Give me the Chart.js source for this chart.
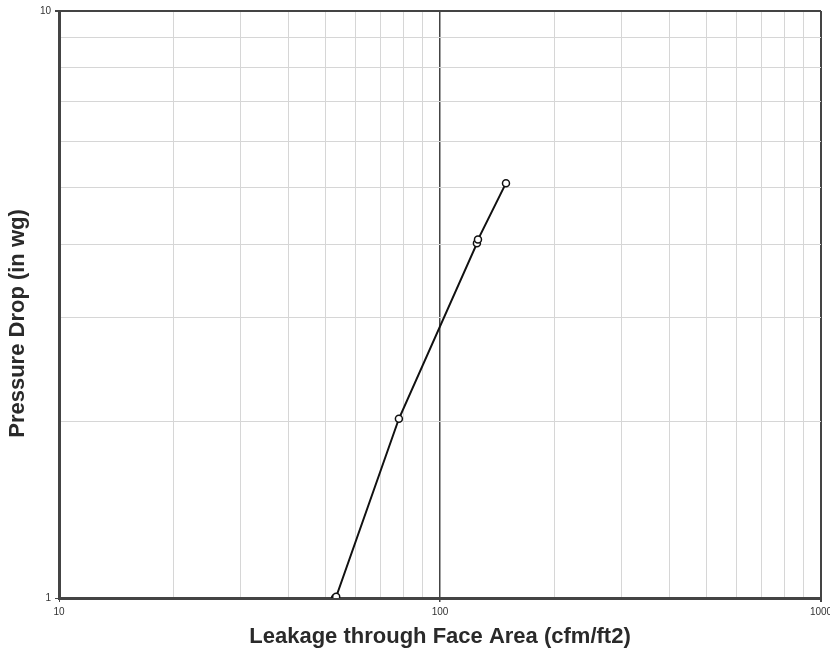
<!DOCTYPE html>
<html>
<head>
<meta charset="utf-8">
<script src="https://cdn.jsdelivr.net/npm/chart.js@4/dist/chart.umd.min.js"></script>
<style>
  html, body { margin: 0; padding: 0; background: #fff; }
  #wrap { width: 830px; height: 652px; position: relative; }
</style>
</head>
<body>
<div id="wrap"><canvas id="c" width="830" height="652"></canvas></div>
<script>
const leakage = [53.0, 53.4, 78, 125, 125.8, 149];
const pressureDrop = [1.0, 1.005, 2.02, 4.02, 4.08, 5.09];
const xTickLabels = [10, 100, 1000];
const yTickLabels = [1, 10];
const xGridValues = [10, 20, 30, 40, 50, 60, 70, 80, 90, 100, 200, 300, 400, 500, 600, 700, 800, 900, 1000];
const yGridValues = [1, 2, 3, 4, 5, 6, 7, 8, 9, 10];
const xTitle = 'Leakage through Face Area (cfm/ft2)';
const yTitle = 'Pressure Drop (in wg)';

const points = leakage.map((x, i) => ({ x: x, y: pressureDrop[i] }));
const FONT = "'Liberation Sans', Arial, Helvetica, sans-serif";

// Y title drawn slightly below the plot's centre, as in the reference
const yTitlePlugin = {
  id: 'yTitle',
  afterDraw(chart) {
    const ctx = chart.ctx;
    const area = chart.chartArea;
    ctx.save();
    ctx.translate(18, (area.top + area.bottom) / 2 + 19);
    ctx.rotate(-Math.PI / 2);
    ctx.font = "bold 22px " + FONT;
    ctx.fillStyle = '#2a2a2a';
    ctx.textAlign = 'center';
    ctx.textBaseline = 'middle';
    ctx.fillText(yTitle, 0, 0);
    ctx.restore();
  }
};

new Chart(document.getElementById('c'), {
  type: 'scatter',
  data: {
    datasets: [{
      data: points,
      showLine: true,
      borderColor: '#111',
      borderWidth: 2,
      tension: 0,
      pointRadius: 3.5,
      pointBorderWidth: 1.5,
      pointBackgroundColor: '#fff',
      pointBorderColor: '#111'
    }]
  },
  plugins: [yTitlePlugin],
  options: {
    responsive: false,
    animation: false,
    devicePixelRatio: 1,
    layout: { padding: { left: 0, right: 9, top: 11, bottom: 0 } },
    plugins: { legend: { display: false }, tooltip: { enabled: false } },
    scales: {
      x: {
        type: 'logarithmic',
        min: 10, max: 1000,
        afterBuildTicks: (s) => { s.ticks = xGridValues.map(v => ({ value: v })); },
        afterFit: (s) => { s.height = 54; s.paddingRight = 0; s.paddingLeft = 0; },
        border: { color: '#444', width: 3 },
        grid: {
          color: (ctx) => (ctx.tick && (ctx.tick.value === 100 || ctx.tick.value === 1000)) ? '#444' : '#d6d6d6',
          lineWidth: (ctx) => (ctx.tick && ctx.tick.value === 100) ? 1.5 : (ctx.tick && ctx.tick.value === 1000 ? 2 : 1),
          tickLength: 4,
          tickColor: (ctx) => (ctx.tick && xTickLabels.includes(ctx.tick.value)) ? '#444' : 'rgba(0,0,0,0)'
        },
        ticks: {
          autoSkip: false,
          maxRotation: 0,
          padding: 4,
          color: '#333',
          font: { family: FONT, size: 10 },
          callback: (v) => xTickLabels.includes(v) ? String(v) : ''
        },
        title: {
          display: true,
          text: xTitle,
          color: '#2a2a2a',
          font: { family: FONT, size: 22, weight: 'bold' },
          padding: { top: 0, bottom: 2 }
        }
      },
      y: {
        type: 'logarithmic',
        min: 1, max: 10,
        afterBuildTicks: (s) => { s.ticks = yGridValues.map(v => ({ value: v })); },
        afterFit: (s) => { s.width = 59; s.paddingTop = 0; s.paddingBottom = 0; },
        border: { color: '#444', width: 3 },
        grid: {
          color: (ctx) => (ctx.tick && ctx.tick.value === 10) ? '#444' : '#d6d6d6',
          lineWidth: (ctx) => (ctx.tick && ctx.tick.value === 10) ? 2 : 1,
          tickLength: 4,
          tickColor: (ctx) => (ctx.tick && yTickLabels.includes(ctx.tick.value)) ? '#444' : 'rgba(0,0,0,0)'
        },
        ticks: {
          autoSkip: false,
          padding: 4,
          color: '#333',
          font: { family: FONT, size: 10 },
          callback: (v) => yTickLabels.includes(v) ? String(v) : ''
        },
        title: { display: false }
      }
    }
  }
});
</script>
</body>
</html>
